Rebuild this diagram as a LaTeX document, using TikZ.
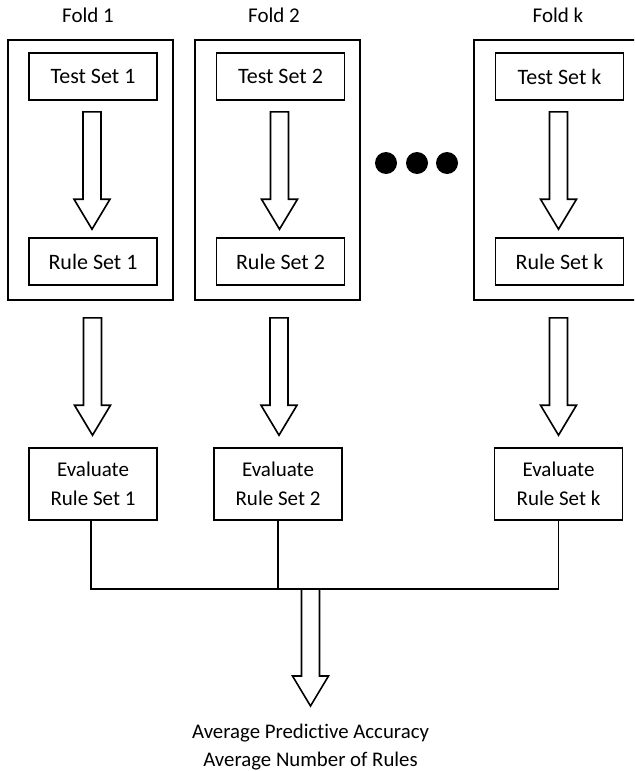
\documentclass[tikz,border=0pt]{standalone}
\usepackage{fontspec}
\setmainfont{Carlito}[Ligatures=NoCommon]
\usepackage{tikz}
\usetikzlibrary{calc}

\tikzset{
  foldbox/.style={draw, line width=0.8pt, minimum width=82.5pt, minimum height=130pt, inner sep=0pt},
  setbox/.style={draw, line width=0.8pt, minimum width=64pt, minimum height=23.5pt, inner sep=0pt, font=\fontsize{11}{13}\selectfont},
  evalbox/.style={draw, line width=0.8pt, minimum width=64pt, minimum height=36pt, inner sep=0pt, align=center, font=\fontsize{10.5}{14.5}\selectfont},
  foldlabel/.style={font=\fontsize{10.5}{12}\selectfont},
  blockarrow/.style={draw, line width=0.8pt, fill=white, line join=miter},
}

% hollow block arrow from #1 down to #2
\newcommand{\bigarrow}[2]{%
  \draw[blockarrow] let \p1=#1, \p2=#2 in
    (\x1-4.5pt,\y1) -- (\x1+4.5pt,\y1) -- (\x1+4.5pt,\y2+15pt) -- (\x1+9pt,\y2+15pt)
    -- (\x1,\y2) -- (\x1-9pt,\y2+15pt) -- (\x1-4.5pt,\y2+15pt) -- cycle;}

\begin{document}
\begin{tikzpicture}[x=0.5pt,y=-0.5pt]
\useasboundingbox (0,0) rectangle (634,771);
\clip (0,0) rectangle (634,771);

% folds
\node[foldbox] (f1) at (90.5,170) {};
\node[foldbox] (f2) at (277.5,170) {};
\node[foldbox] (fk) at (556.5,170) {};
\node[foldlabel] (l1) at (88,15) {Fold 1};
\node[foldlabel] (l2) at (274,15) {Fold 2};
\node[foldlabel] (lk) at (558,15) {Fold k};

\node[setbox] (t1) at (93,76.5) {Test Set 1};
\node[setbox] (t2) at (280.5,76.5) {Test Set 2};
\node[setbox] (tk) at (559.5,76.5) {Test Set k};
\node[setbox] (r1) at (93,261.5) {Rule Set 1};
\node[setbox] (r2) at (280.5,261.5) {Rule Set 2};
\node[setbox] (rk) at (559.5,261.5) {Rule Set k};

\bigarrow{($(t1.south)+(-1,11)$)}{($(r1.north)+(0,-8)$)}
\bigarrow{($(t2.south)+(-1,11)$)}{($(r2.north)+(0,-8)$)}
\bigarrow{($(tk.south)+(-1,11)$)}{($(rk.north)+(0,-8)$)}

% dots
\foreach \dx in {386,417,447}
  \fill (\dx,163) circle (5.5pt);

% evaluation
\node[evalbox] (e1) at (93,484) {Evaluate\\Rule Set 1};
\node[evalbox] (e2) at (278,484) {Evaluate\\Rule Set 2};
\node[evalbox] (ek) at (558.5,484) {Evaluate\\Rule Set k};

\bigarrow{($(f1.south)+(2,17)$)}{($(e1.north)+(0,-12)$)}
\bigarrow{($(f2.south)+(1.5,17)$)}{($(e2.north)+(0,-12)$)}
\bigarrow{($(fk.south)+(2,17)$)}{($(ek.north)+(0,-12)$)}

\coordinate (join) at (310.5,589);
\draw[line width=0.8pt] (e1.south -| 91,0) |- (join) -| (ek.south);
\draw[line width=0.8pt] (e2.south) -- (e2.south |- join);

\node[align=center, font=\fontsize{10.4}{14}\selectfont] (res) at (310.5,747)
  {Average Predict\kern0pt ive Accuracy\\Average Number of Rules};
\coordinate (tip) at (310.5,706);
\bigarrow{(join)}{(tip)}
\end{tikzpicture}
\end{document}
